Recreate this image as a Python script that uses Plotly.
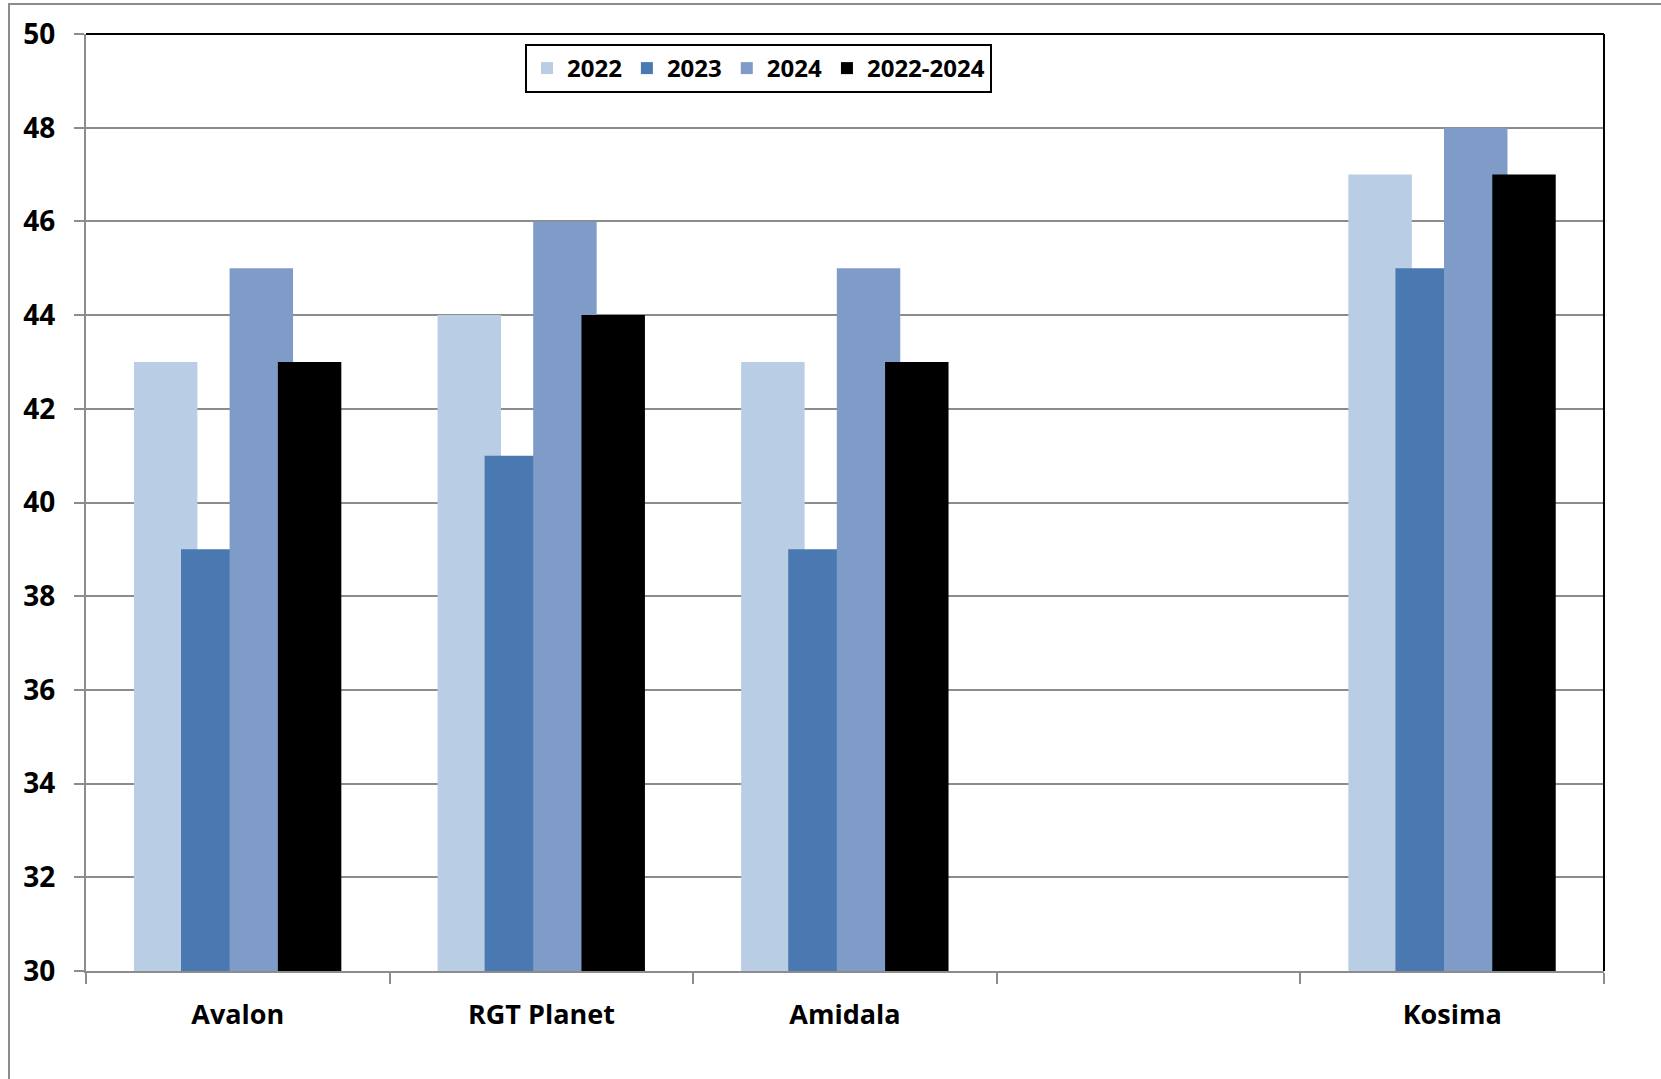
import plotly.graph_objects as go

categories = ["Avalon", "RGT Planet", "Amidala", " ", "Kosima"]
series_names = ["2022", "2023", "2024", "2022-2024"]
v2022 = [43, 44, 43, None, 47]
v2023 = [39, 41, 39, None, 45]
v2024 = [45, 46, 45, None, 48]
v2022_2024 = [43, 44, 43, None, 47]
y_ticks = [30, 32, 34, 36, 38, 40, 42, 44, 46, 48, 50]

colors = ["#B9CDE5", "#4A79B2", "#7F9CC8", "#000000"]
offsets = [-0.342, -0.187, -0.027, 0.132]
bar_w = 0.209

W, H = 1661, 1079
L, R, T, B = 86, 1604, 34, 971

fig = go.Figure()
for name, vals, col, off in zip(series_names, [v2022, v2023, v2024, v2022_2024], colors, offsets):
    fig.add_trace(go.Bar(
        x=categories, y=vals, name=name,
        marker=dict(color=col, line=dict(width=0)),
        offset=off, width=bar_w,
    ))

font_family = "'Open Sans', Lato, sans-serif"
fig.update_layout(
    width=W, height=H,
    margin=dict(l=L, r=W - R, t=T, b=H - B, pad=0),
    paper_bgcolor="white", plot_bgcolor="white",
    barmode="overlay",
    showlegend=True,
    legend=dict(
        orientation="h", x=(525 - L) / (R - L), y=(B - 44) / (B - T),
        xanchor="left", yanchor="top",
        bordercolor="black", borderwidth=2, bgcolor="white",
        font=dict(family=font_family, size=24, color="black", weight="bold"),
        traceorder="normal", itemwidth=30,
    ),
    xaxis=dict(
        type="category", categoryorder="array", categoryarray=categories,
        range=[-0.5, 4.5], tickson="boundaries", ticks="outside", ticklen=11,
        tickwidth=2, tickcolor="#8c8c8c", showline=True, linecolor="#8c8c8c",
        linewidth=2, showgrid=False, mirror=False,
        tickfont=dict(family=font_family, size=27, color="black", weight="bold"),
        ticklabelstandoff=19,
    ),
    yaxis=dict(
        range=[30, 50], tickvals=y_ticks, ticks="outside", ticklen=10,
        tickwidth=2, tickcolor="#8c8c8c", showline=True, linecolor="#8c8c8c",
        linewidth=2, showgrid=True, gridcolor="#8c8c8c", gridwidth=2,
        tickfont=dict(family=font_family, size=28, color="black", weight="bold"),
        ticklabelstandoff=13, zeroline=False,
    ),
    shapes=[
        # plot area top and right black border
        dict(type="line", xref="paper", yref="paper", x0=0, x1=1, y0=1, y1=1,
             line=dict(color="black", width=2)),
        dict(type="line", xref="paper", yref="paper", x0=1, x1=1, y0=0, y1=1,
             line=dict(color="black", width=2)),
        # outer chart border
        dict(type="rect", xref="paper", yref="paper",
             x0=(9 - L) / (R - L), x1=(W + 10 - L) / (R - L),
             y0=(B - (H + 10)) / (B - T), y1=(B - 4) / (B - T),
             line=dict(color="#8c8c8c", width=2), layer="below"),
    ],
)

fig.write_html("out.html")
